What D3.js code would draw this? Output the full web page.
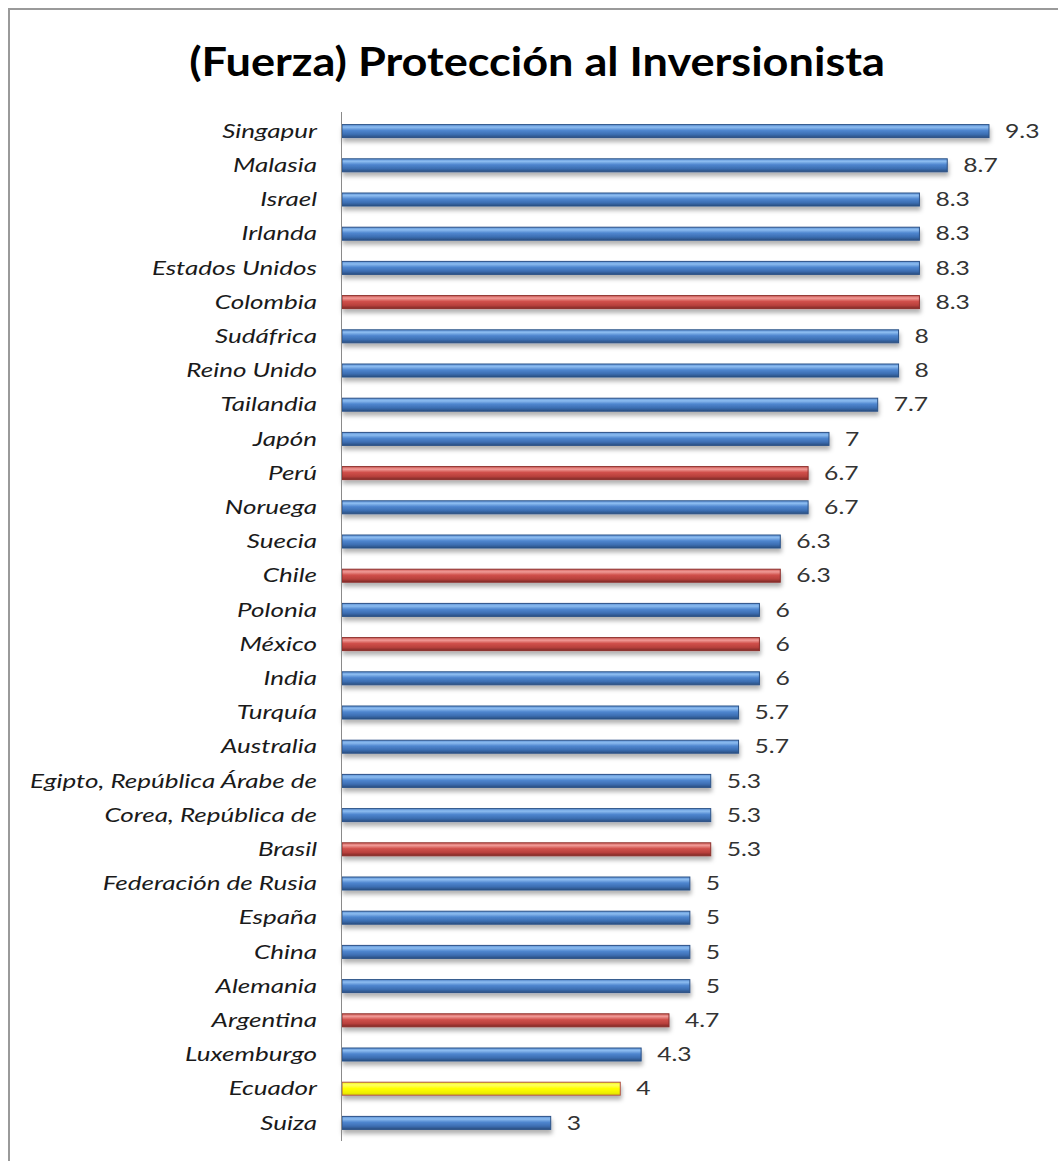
<!DOCTYPE html>
<html>
<head>
<meta charset="utf-8">
<script src="https://cdn.jsdelivr.net/npm/d3@7"></script>
<style>
  body { margin: 0; background: #fff; }
  svg { display: block; }
</style>
</head>
<body>
<svg width="1058" height="1161"></svg>
<script>
// countries top to bottom
const countries = ["Singapur", "Malasia", "Israel", "Irlanda", "Estados Unidos", "Colombia",
  "Sudáfrica", "Reino Unido", "Tailandia", "Japón", "Perú", "Noruega", "Suecia", "Chile",
  "Polonia", "México", "India", "Turquía", "Australia", "Egipto, República Árabe de",
  "Corea, República de", "Brasil", "Federación de Rusia", "España", "China", "Alemania",
  "Argentina", "Luxemburgo", "Ecuador", "Suiza"];
const values = [9.3, 8.7, 8.3, 8.3, 8.3, 8.3, 8, 8, 7.7, 7, 6.7, 6.7, 6.3, 6.3, 6, 6, 6,
  5.7, 5.7, 5.3, 5.3, 5.3, 5, 5, 5, 5, 4.7, 4.3, 4, 3];
// b = blue, r = red (latam), y = yellow (Ecuador)
const groups = ["b", "b", "b", "b", "b", "r", "b", "b", "b", "b", "r", "b", "b", "r", "b",
  "r", "b", "b", "b", "b", "b", "r", "b", "b", "b", "b", "r", "b", "y", "b"];

const svg = d3.select("svg");
const defs = svg.append("defs");

function grad(id, stops) {
  let g = defs.append("linearGradient").attr("id", id)
    .attr("x1", 0).attr("y1", 0).attr("x2", 0).attr("y2", 1);
  stops.forEach(s => g.append("stop").attr("offset", s[0]).attr("stop-color", s[1]));
}
grad("gb", [[0, "#5f93d6"], [0.2, "#8cbcf0"], [0.45, "#4f86cf"], [0.75, "#3c6eb2"], [1, "#2a4f80"]]);
grad("gr", [[0, "#d2605c"], [0.2, "#f09a96"], [0.45, "#d0504b"], [0.75, "#b8403c"], [1, "#7d2826"]]);
grad("gy", [[0, "#f2f200"], [0.2, "#ffff66"], [0.5, "#ffff00"], [0.8, "#f0f000"], [1, "#d8d800"]]);

let sh = defs.append("filter").attr("id", "shadow")
  .attr("x", "-5%").attr("y", "-50%").attr("width", "110%").attr("height", "250%");
sh.append("feDropShadow").attr("dx", 1).attr("dy", 4).attr("stdDeviation", 2)
  .attr("flood-color", "#000").attr("flood-opacity", 0.3);

const fills = { b: "url(#gb)", r: "url(#gr)", y: "url(#gy)" };
const strokes = { b: "#2c5287", r: "#8c2f2c", y: "#b0504c" };

// frame (only top and left visible)
svg.append("path").attr("d", "M9,1161 V9 H1058")
  .attr("fill", "none").attr("stroke", "#9a9a9a").attr("stroke-width", 2);

svg.append("text")
  .attr("transform", "translate(537,76) scale(1.1,1)")
  .attr("text-anchor", "middle")
  .style("font-family", "Lato, 'Open Sans', sans-serif")
  .style("font-weight", "bold")
  .style("font-size", "41px")
  .style("fill", "#000")
  .text("(Fuerza) Protección al Inversionista");

const x = d3.scaleLinear().domain([0, 9.3]).range([342, 989]);
const y = d3.scaleBand().domain(countries).range([114, 1140]).paddingInner(0.62).paddingOuter(0.31);

const data = countries.map((c, i) => ({ name: c, value: values[i], g: groups[i] }));

svg.append("g").selectAll("rect")
  .data(data)
  .enter().append("rect")
  .attr("x", x(0))
  .attr("y", d => y(d.name))
  .attr("width", d => x(d.value) - x(0))
  .attr("height", y.bandwidth())
  .attr("fill", d => fills[d.g])
  .attr("stroke", d => strokes[d.g])
  .attr("stroke-width", 1)
  .attr("filter", "url(#shadow)");

// axis line
svg.append("line")
  .attr("x1", 341.5).attr("x2", 341.5)
  .attr("y1", 112).attr("y2", 1141)
  .attr("stroke", "#8a8a8a").attr("stroke-width", 1);

// labels are drawn a bit stretched, like the original picture
svg.append("g").selectAll("text")
  .data(data)
  .enter().append("text")
  .attr("transform", d => `translate(317,${y(d.name) + y.bandwidth() / 2}) scale(1.37,1)`)
  .attr("dy", "0.35em")
  .attr("text-anchor", "end")
  .style("font-family", "Lato, 'Open Sans', sans-serif")
  .style("font-style", "italic")
  .style("font-size", "19px")
  .style("fill", "#1a1a1a")
  .text(d => d.name);

svg.append("g").selectAll("text")
  .data(data)
  .enter().append("text")
  .attr("transform", d => `translate(${x(d.value) + 16},${y(d.name) + y.bandwidth() / 2}) scale(1.3,1)`)
  .attr("dy", "0.35em")
  .style("font-family", "Lato, 'Open Sans', sans-serif")
  .style("font-size", "19px")
  .style("fill", "#333")
  .text(d => d.value);
</script>
</body>
</html>
